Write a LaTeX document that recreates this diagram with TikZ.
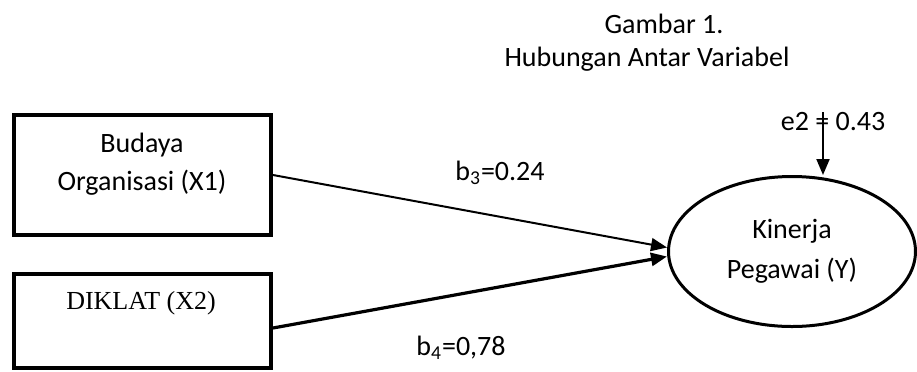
\documentclass[tikz,border=0pt]{standalone}
\usepackage{fontspec}
\setmainfont{Carlito}
\newfontfamily\timesfont{Liberation Serif}
\usetikzlibrary{shapes.geometric,arrows.meta,calc}
\begin{document}
\begin{tikzpicture}[x=0.5pt,y=-0.5pt,
  txt/.style={font=\fontsize{14pt}{19pt}\selectfont, inner sep=0pt, align=center},
  varbox/.style={draw, line width=2pt, rectangle, minimum width=128.5pt, inner sep=0pt},
  latent/.style={draw, ellipse, line width=1.5pt, minimum width=123.5pt, minimum height=75pt, inner sep=0pt,
     font=\fontsize{14pt}{20pt}\selectfont, align=center},
  path1/.style={line width=1pt, -{Triangle[length=8pt,width=6.5pt]}},
  path2/.style={line width=1.6pt, -{Triangle[length=8pt,width=6.5pt]}}
]
\useasboundingbox (0,0) rectangle (917,371);

% title
\node[txt] (t1) at (664,24) {Gambar 1.};
\node[txt] (t2) at (647,59) {Hubungan Antar Variabel};

% boxes
\node[varbox, minimum height=60pt] (b1) at (142.5,175) {};
\node[txt] (b1t) at (142,164) {Budaya\\Organisasi (X1)};
\node[varbox, minimum height=47pt] (b2) at (142.5,321) {};
\node[txt, font=\timesfont\fontsize{13pt}{16pt}\selectfont] (b2t) at (141,303) {DIKLAT (X2)};

% ellipse
\node[latent] (y) at (792,251.5) {Kinerja\\Pegawai (Y)};

% connectors
\draw[path1] (b1.east) -- ($(y.west)+(0,-4)$);
\draw[path2] ($(b2.east)+(0,7)$) -- ($(y.west)+(0,5)$);

% labels
\node[txt] (l1) at (500,173) {b\textsubscript{3}=0.24};
\node[txt] (l2) at (461,348) {b\textsubscript{4}=0,78};

% error term
\node[txt] (e2) at (833,122) {e2 = 0.43};
\coordinate (e2top) at (823,112);
\draw[line width=1pt, -{Triangle[length=8pt,width=6.5pt]}] (e2top) -- (e2top |- y.north);
\end{tikzpicture}
\end{document}
